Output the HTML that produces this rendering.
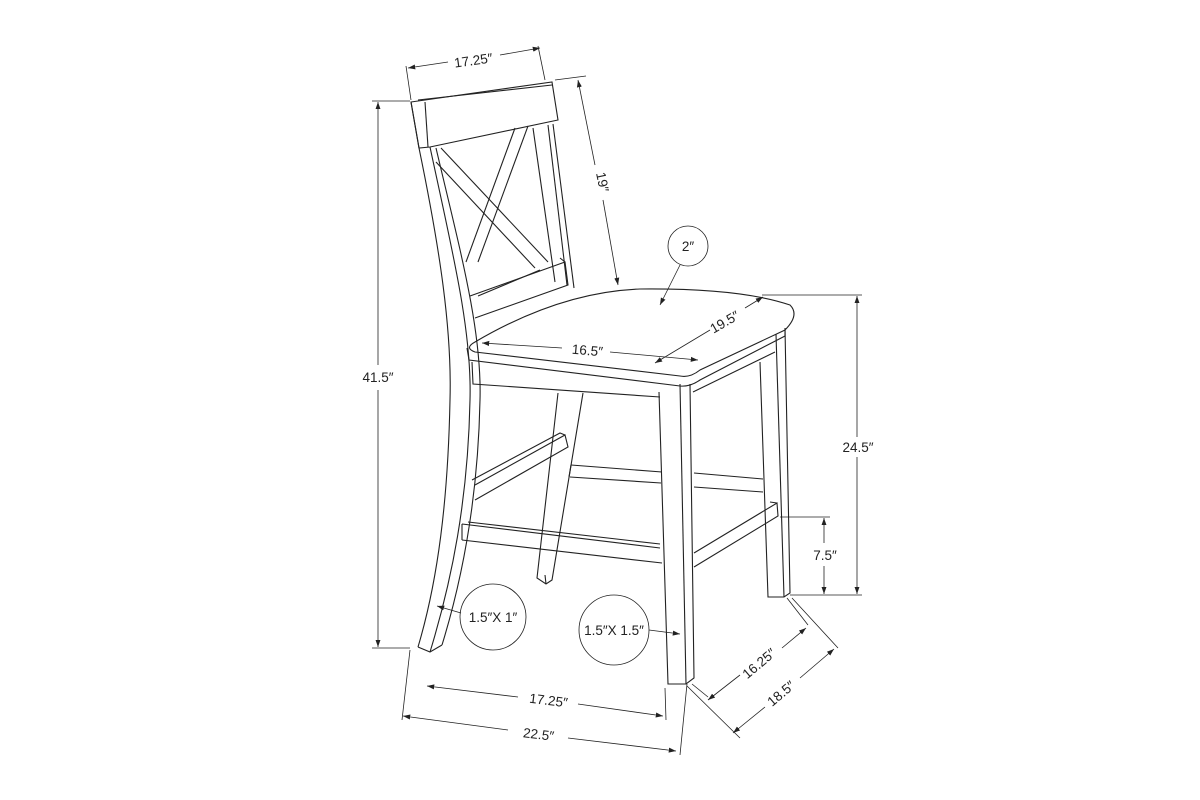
<!DOCTYPE html>
<html><head><meta charset="utf-8"><style>
html,body{margin:0;padding:0;background:#fff}
svg{display:block}
text{font-family:"Liberation Sans",sans-serif;font-size:13.5px;fill:#222}
</style></head><body>
<svg width="1200" height="800" viewBox="0 0 1200 800" xmlns="http://www.w3.org/2000/svg">
<defs>
<marker id="a" viewBox="0 0 10 10" refX="10" refY="5" markerWidth="9" markerHeight="9" orient="auto-start-reverse"><path d="M0,1.5 L10,5 L0,8.5 Z" fill="#222"/></marker>
</defs>
<g fill="none" stroke="#222" stroke-width="1.1">
<path d="M411,102 L552,82 L558,120 L430,147 L419,148 Z"/>
<path d="M411,102 L419,148"/>
<path d="M425,102 L428,147"/>
<path d="M418,100 L552,85"/>
<path d="M419,148 C440,250 452,330 450,400 C448,500 438,580 418,647"/>
<path d="M430,147 C452,250 472,330 470,400 C468,500 452,580 430,652"/>
<path d="M436,148 C460,250 482,330 480,400 C478,500 462,580 442,645"/>
<path d="M418,647 L430,652 L442,645"/>
<path d="M548,125 L567,285"/>
<path d="M553,124 L574,288"/>
<path d="M533,128 L555,282"/>
<path d="M441,148 L548,262"/>
<path d="M436,162 L535,268"/>
<path d="M515,128 L466,262"/>
<path d="M528,126 L478,262"/>
<path d="M470,296 L565,262 L568,285 L475,318"/>
<path d="M565,262 L560,258"/>
<path d="M478,296 L540,270"/>
<path d="M475,342 Q560,292 640,289 Q740,288 790,305 Q800,315 785,330 L700,370 Q690,378 680,376 L475,352 Q464,348 475,342 Z"/>
<path d="M467,348 L469,360 L680,386 Q690,387 700,380 L785,336 L785,330"/>
<path d="M472,362 L473,384 L660,397"/>
<path d="M693,392 L775,352"/>
<path d="M558,393 L537,578 L546,584 L552,580 L583,393"/>
<path d="M546,584 L545,575"/>
<path d="M659,392 L668,684 L686,684 L694,678 L690,384"/>
<path d="M680,384 L686,684"/>
<path d="M760,362 L768,597 L784,597 L790,593 L785,328"/>
<path d="M776,334 L784,597"/>
<path d="M475,485 L565,435 L568,447 L475,500"/>
<path d="M565,435 L560,433 L472,480"/>
<path d="M571,465 L662,472 M570,477 L661,483"/>
<path d="M694,473 L763,479 M694,487 L763,492"/>
<path d="M571,465 L569,477"/>
<path d="M462,524 L660,548 M462,540 L662,563 M462,524 L462,540"/>
<path d="M468,522 L660,544"/>
<path d="M694,553 L777,503 L778,516 L694,567"/>
<path d="M777,503 L770,502"/>
<circle cx="493" cy="617" r="33" stroke-width="0.8"/>
<circle cx="614" cy="630" r="35" stroke-width="0.8"/>
<circle cx="688" cy="246" r="20" stroke-width="0.8"/>
</g>
<g fill="none" stroke="#222" stroke-width="0.8">
<path d="M406,66 L411,100 M538,46 L545,80"/>
<path d="M555,80 L586,76"/>
<path d="M372,101 L410,101 M372,648 L410,648"/>
<path d="M762,295 L862,295 M790,595 L862,595"/>
<path d="M780,517 L830,517"/>
<path d="M410,650 L402,720 M687,684 L680,755"/>
<path d="M665,688 L666,720"/>
<path d="M687,686 L740,738 M792,598 L838,648"/>
<path d="M787,598 L808,625 M692,684 L708,697"/>
<path d="M408,68 L448,62" marker-start="url(#a)"/>
<path d="M500,55 L540,48" marker-end="url(#a)"/>
<path d="M578,80 L595,165" marker-start="url(#a)"/>
<path d="M603,200 L618,285" marker-end="url(#a)"/>
<path d="M378,102 L378,365" marker-start="url(#a)"/>
<path d="M378,390 L378,647" marker-end="url(#a)"/>
<path d="M857,296 L857,437" marker-start="url(#a)"/>
<path d="M857,457 L857,594" marker-end="url(#a)"/>
<path d="M824,518 L824,543" marker-start="url(#a)"/>
<path d="M824,566 L824,594" marker-end="url(#a)"/>
<path d="M482,343 L562,348" marker-start="url(#a)"/>
<path d="M610,352 L698,360" marker-end="url(#a)"/>
<path d="M655,363 L710,330" marker-start="url(#a)"/>
<path d="M745,308 L763,297" marker-end="url(#a)"/>
<path d="M427,686 L518,697" marker-start="url(#a)"/>
<path d="M578,704 L663,716" marker-end="url(#a)"/>
<path d="M403,716 L508,730" marker-start="url(#a)"/>
<path d="M568,738 L676,751" marker-end="url(#a)"/>
<path d="M708,700 L740,675" marker-start="url(#a)"/>
<path d="M782,648 L806,628" marker-end="url(#a)"/>
<path d="M733,733 L765,707" marker-start="url(#a)"/>
<path d="M800,678 L834,649" marker-end="url(#a)"/>
<path d="M680,265 L660,305" marker-end="url(#a)"/>
<path d="M461,613 L437,606" marker-end="url(#a)"/>
<path d="M649,630 L680,634" marker-end="url(#a)"/>
</g>
<text x="474" y="65" text-anchor="middle" transform="rotate(-8 474 65)">17.25″</text>
<text x="598" y="183" text-anchor="middle" transform="rotate(78 598 183)">19″</text>
<text x="378" y="382" text-anchor="middle">41.5″</text>
<text x="858" y="452" text-anchor="middle">24.5″</text>
<text x="825" y="560" text-anchor="middle">7.5″</text>
<text x="587" y="355" text-anchor="middle" transform="rotate(5 587 355)">16.5″</text>
<text x="727" y="326" text-anchor="middle" transform="rotate(-30 727 326)">19.5″</text>
<text x="548" y="705" text-anchor="middle" transform="rotate(7 548 705)">17.25″</text>
<text x="538" y="739" text-anchor="middle" transform="rotate(7 538 739)">22.5″</text>
<text x="762" y="667" text-anchor="middle" transform="rotate(-40 762 667)">16.25″</text>
<text x="784" y="697" text-anchor="middle" transform="rotate(-40 784 697)">18.5″</text>
<text x="688" y="251" text-anchor="middle">2″</text>
<text x="493" y="622" text-anchor="middle">1.5″X 1″</text>
<text x="614" y="635" text-anchor="middle">1.5″X 1.5″</text>
</svg>
</body></html>
